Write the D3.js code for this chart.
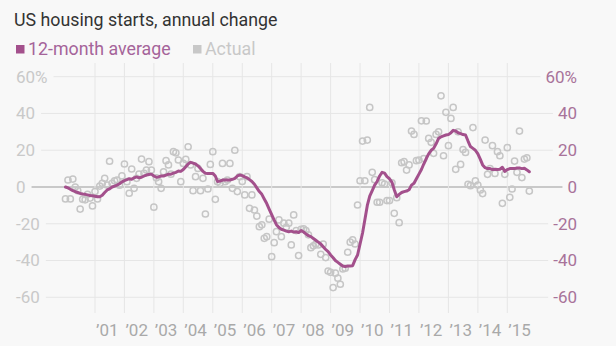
<!DOCTYPE html>
<html><head><meta charset="utf-8">
<script src="https://cdn.jsdelivr.net/npm/d3@7"></script>
<style>
html,body{margin:0;padding:0;background:#f8f8f8;}
svg{display:block;font-family:Roboto, "Noto Sans", sans-serif;}
</style></head>
<body>
<svg id="chart" width="616" height="346"></svg>
<script>
const startYear = 2000;
const actual = [
  // 2000
  -6.5, 3.8, -6.5, 4.3, 0, -2, -12, -6.7, -7, -4, -6, -10.3,
  // 2001
  -2.5, -6.5, 0.5, 2, 4.7, 1.1, 14, 2, 3.4, 3.8, 1, 6,
  // 2002
  12.5, 2.9, -3.4, 9.8, -0.7, 4.7, 7, 15.2, 7.4, 9.2, 13.8, 9.2,
  // 2003
  -11, 5, 2.9, -0.7, 8.3, 14.3, 12, 7, 19.2, 18.6, 14.7, 2.9,
  // 2004
  12.8, 15, 21.9, 12, -2, 5.6, 10.1, -2, 4.7, -14.7, -1.1, 12.3,
  // 2005
  19.2, -6.7, 2.9, 2, 12.8, 2.9, 3.8, 12.8, -0.7, 20, -2.5, 5.6,
  // 2006
  3, -4.3, 5.6, -11.6, -4.3, -12.5, -15.8, -21.6, -20.6, -27.9, -27, -17.5,
  // 2007
  -37.9, -30.3, -24.3, -17.9, -27, -19.7, -21.9, -19.7, -31.5, -15.2, -23.7, -37.3,
  // 2008
  -23, -22.8, -23.7, -26, -33, -32, -31, -31.5, -36.6, -31, -38.4, -45.7,
  // 2009
  -46.4, -54.7, -46.9, -49.6, -52.9, -44.6, -44.2, -35.5, -30, -28.8, -31, -9.8,
  // 2010
  3.4, 25, 3.4, 25.5, 43.3, 8, 4, -8.3, -8.3, 2.3, 1.6, -7.4,
  // 2011
  -7.4, 2.3, -14.3, -5.8, -19.4, 13.2, 13.8, 9.2, 12, 30.4, 28.6, 14.3,
  // 2012
  14.7, 36, 15.5, 35.9, 26.4, 24.3, 18.3, 28.6, 30, 49.6, 17, 40.6,
  // 2013
  22.5, 37.3, 43.3, 9.6, 30, 12.3, 20.4, 18.8, 1.5, 0.7, 32.3, 3.3,
  // 2014
  1.1, -1.6, -3.6, 25.5, 6.9, 10, 22.5, 7.4, 19.2, 17, -8.9, 6.9,
  // 2015
  21.4, -5.6, -1.1, 14.1, 8, 30.4, 5.1, 15.2, 15.9, -2.2
];
const average12 = [
  // 2000
  0, -0.5, -1.2, -2, -2.5, -3, -3.5, -3.8, -4, -4.3, -4.6, -4.8,
  // 2001
  -5, -5.3, -5.3, -4.5, -3, -1.6, -1, 0, 0.5, 1, 1.8, 2.8,
  // 2002
  3.5, 4, 4.5, 4.2, 5, 5.5, 5, 5.3, 6, 6.5, 6.8, 7,
  // 2003
  6, 5.3, 5.5, 6, 6, 6.5, 7, 7, 7.5, 8, 8.7, 8.5,
  // 2004
  9.5, 11, 12.5, 13.4, 13, 12.5, 11.5, 10, 8.5, 7.5, 7.4, 7.4,
  // 2005
  7.4, 6, 3, 3.2, 3.8, 3.8, 3.8, 3.8, 4.2, 4.7, 6, 6.5,
  // 2006
  6.2, 5.5, 5, 4, 3, 1.5, -0.5, -2.5, -4, -6.5, -9, -12,
  // 2007
  -15, -18, -20.5, -22, -23, -23.5, -24, -24.3, -24, -24.5, -24.3, -24.8,
  // 2008
  -23.7, -24.5, -25.5, -26.5, -27, -28, -29, -30, -31, -32.5, -34, -35.2,
  // 2009
  -37, -38.5, -40, -41, -42, -43, -43.3, -43, -43, -42.8, -39.5, -37,
  // 2010
  -31, -25, -18, -10, -5, -2, 1, 3, 6, 8, 7.5, 5.6,
  // 2011
  4.5, 2.5, -1.5, -5.3, -4, -3, -2.5, -2.2, -1.5, 1, 2, 4.5,
  // 2012
  7, 9.5, 12.5, 15.5, 18, 20, 21, 23.5, 26.4, 27.3, 27.8, 28.3,
  // 2013
  28.5, 29.5, 30.8, 30.5, 29.5, 29, 28.5, 28.3, 25, 22, 21, 20,
  // 2014
  18, 15, 12, 10.5, 10, 10, 9.5, 9.7, 9.5, 9.7, 10.7, 8.5,
  // 2015
  9.5, 10, 10, 10, 10.3, 10.3, 10, 10.2, 9.3, 8.3
];
const yTicks = [-60, -40, -20, 0, 20, 40, 60];
const yearTicks = [2001, 2002, 2003, 2004, 2005, 2006, 2007, 2008, 2009, 2010, 2011, 2012, 2013, 2014, 2015];
const titleText = "US housing starts, annual change";
const legendItems = ["12-month average", "Actual"];

const lineColor = "#a3508c";
const dotColor = "#c6c6c6";
const gridColor = "#e6e6e6";

const svg = d3.select("#chart");
const x = d3.scaleTime()
  .domain([new Date(2001, 0, 1), new Date(2015, 0, 1)])
  .range([95, 507.3]);
const y = d3.scaleLinear().domain([-60, 60]).range([297.3, 76.7]);

const dateOf = i => new Date(startYear, i, 1);
const act = actual.map((v, i) => ({ d: dateOf(i), v }));
const avg = average12.map((v, i) => ({ d: dateOf(i), v }));

// vertical grid
svg.append("g").selectAll("line").data(yearTicks).join("line")
  .attr("x1", d => x(new Date(d, 0, 1))).attr("x2", d => x(new Date(d, 0, 1)))
  .attr("y1", 63).attr("y2", 313)
  .attr("stroke", gridColor).attr("stroke-width", 1);

// y labels
const leftG = svg.append("g");
const rightG = svg.append("g");
const fmt = d => d === 60 ? "60%" : String(d);
yTicks.forEach(t => {
  const lt = leftG.append("text").attr("x", 16).attr("y", y(t)).attr("dy", "0.35em")
    .attr("font-size", 17).attr("fill", "#c9c9c9").text(fmt(t));
  const rt = rightG.append("text").attr("x", 577).attr("y", y(t)).attr("dy", "0.35em")
    .attr("text-anchor", "end").attr("font-size", 17).attr("fill", "#a8739a").text(fmt(t));
  const lw = lt.node().getComputedTextLength();
  const rw = rt.node().getComputedTextLength();
  svg.insert("line", "g")
    .attr("x1", 16 + lw + 6).attr("x2", 577 - rw - 5)
    .attr("y1", y(t)).attr("y2", y(t))
    .attr("stroke", t === 0 ? "#9a9a9a" : gridColor).attr("stroke-width", 1);
});

// x labels
svg.append("g").selectAll("text").data(yearTicks).join("text")
  .attr("x", d => x(new Date(d, 0, 1)) + 1).attr("y", 336)
  .attr("font-size", 17).attr("fill", "#a9a9a9")
  .text(d => "\u2019" + String(d).slice(2));

// dots
svg.append("g").selectAll("circle").data(act).join("circle")
  .attr("cx", d => x(d.d)).attr("cy", d => y(d.v)).attr("r", 3.1)
  .attr("fill", "none").attr("stroke", dotColor).attr("stroke-width", 1.5);

// line
svg.append("path").datum(avg)
  .attr("d", d3.line().x(d => x(d.d)).y(d => y(d.v)))
  .attr("fill", "none").attr("stroke", lineColor).attr("stroke-width", 3)
  .attr("stroke-linejoin", "round").attr("stroke-linecap", "round");

// title
svg.append("text").attr("x", 14).attr("y", 26).attr("font-size", 17.8)
  .attr("fill", "#333").text(titleText);

// legend
svg.append("rect").attr("x", 16).attr("y", 45).attr("width", 8.5).attr("height", 8.5).attr("fill", lineColor);
svg.append("text").attr("x", 28).attr("y", 55).attr("font-size", 17.8).attr("fill", "#a5649a").text(legendItems[0]);
svg.append("rect").attr("x", 193).attr("y", 45).attr("width", 8.5).attr("height", 8.5).attr("fill", "#c8c8c8");
svg.append("text").attr("x", 205).attr("y", 55).attr("font-size", 17.8).attr("fill", "#c8c8c8").text(legendItems[1]);
</script>
</body></html>
